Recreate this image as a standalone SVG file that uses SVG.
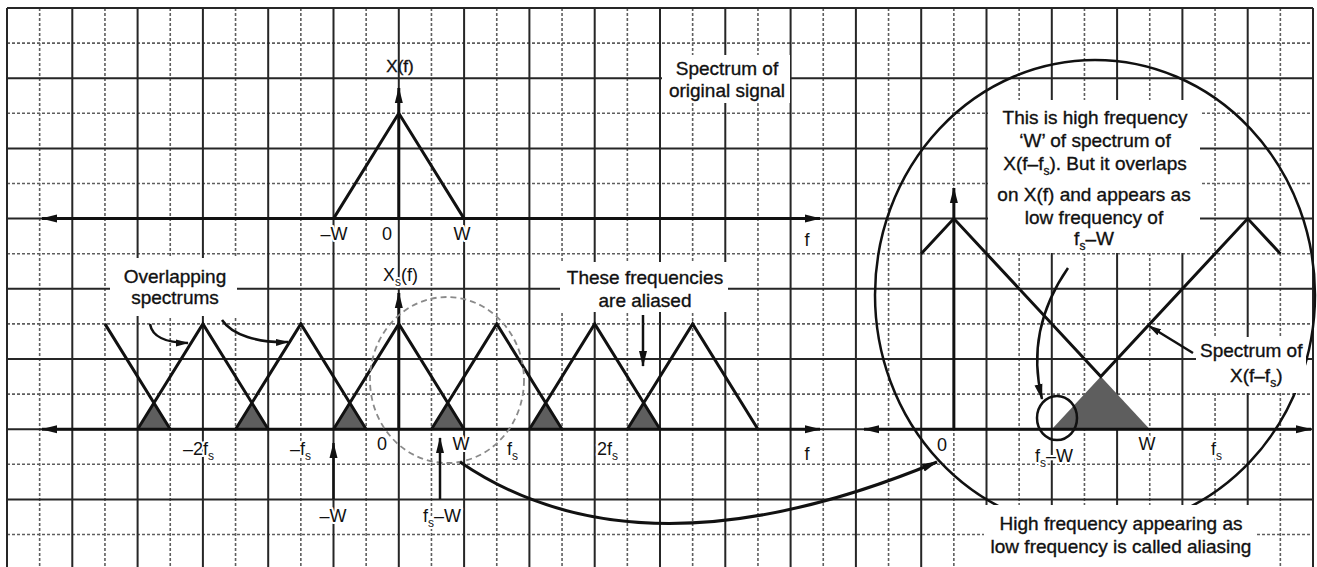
<svg xmlns="http://www.w3.org/2000/svg" width="1317" height="567" viewBox="0 0 1317 567">
<defs>
<style>
.maj{stroke:#262626;stroke-width:2;fill:none}
.min{stroke:#5e5e5e;stroke-width:1.6;stroke-dasharray:3 2;fill:none}
.box{fill:#fff}
.thk{stroke:#111;stroke-width:3;fill:none;stroke-linejoin:miter}
.ax{stroke:#111;stroke-width:3;fill:none}
.arr{stroke:#111;stroke-width:2.5;fill:none}
.sh{fill:#5e5e5e}
.t{font-family:'Liberation Sans',Arial,sans-serif;font-size:19px;fill:#111;stroke:#111;stroke-width:0.35}
.l{font-size:18px;stroke:#fff;stroke-width:4;paint-order:stroke;stroke-linejoin:round}
.s{font-size:12px}
</style>
<marker id="ah" viewBox="0 0 16 10" refX="15" refY="5" markerWidth="16" markerHeight="10" orient="auto-start-reverse" markerUnits="userSpaceOnUse"><path d="M0,1 L16,5 L0,9 Z" fill="#111"/></marker>
<marker id="as" viewBox="0 0 13 8" refX="12" refY="4" markerWidth="13" markerHeight="8" orient="auto" markerUnits="userSpaceOnUse"><path d="M0,0.5 L13,4 L0,7.5 Z" fill="#111"/></marker>
</defs>
<rect width="1317" height="567" fill="#fff"/>
<g id="grid">
<path class="min" d="M39.65,8V567M104.95,8V567M170.25,8V567M235.55,8V567M300.85,8V567M366.15,8V567M431.45,8V567M496.75,8V567M562.05,8V567M627.35,8V567M692.65,8V567M757.95,8V567M823.25,8V567M888.55,8V567M953.85,8V567M1019.15,8V567M1084.45,8V567M1149.75,8V567M1215.05,8V567M1280.35,8V567"/>
<path class="min" d="M7,43.1H1313M7,113.3H1313M7,183.5H1313M7,253.7H1313M7,323.9H1313M7,394.1H1313M7,464.3H1313M7,534.5H1313"/>
<path class="maj" d="M7,8V567M72.3,8V567M137.6,8V567M202.9,8V567M268.2,8V567M333.5,8V567M398.8,8V567M464.1,8V567M529.4,8V567M594.7,8V567M660,8V567M725.3,8V567M790.6,8V567M855.9,8V567M921.2,8V567M986.5,8V567M1051.8,8V567M1117.1,8V567M1182.4,8V567M1247.7,8V567M1313,8V567"/>
<path class="maj" d="M7,8H1313M7,78.2H1313M7,148.4H1313M7,218.6H1313M7,288.8H1313M7,359H1313M7,429.2H1313M7,499.4H1313"/>
</g>
<g id="zoom-circle">
<ellipse cx="1095" cy="295" rx="220" ry="235" fill="none" stroke="#111" stroke-width="2.5"/>
</g>
<g id="text-boxes">
<rect class="box" x="662" y="55" width="128" height="48"/>
<rect class="box" x="110" y="258" width="127" height="58"/>
<rect class="box" x="560" y="262" width="168" height="50"/>
<rect class="box" x="988" y="100" width="212" height="153"/>
<rect class="box" x="1196" y="337" width="110" height="56"/>
<rect class="box" x="984" y="505" width="272" height="62"/>
</g>
<g id="original-spectrum">
<path class="ax" d="M42,218.6H820" marker-start="url(#ah)" marker-end="url(#ah)"/>
<path class="ax" d="M398.8,218.6V88" marker-end="url(#ah)"/>
<path class="thk" d="M333.5,218.6L398.8,113.3L464.1,218.6"/>
<text class="t" x="400" y="72" text-anchor="middle" style="font-size:17px">X(f)</text>
<text class="t l" x="334" y="240" text-anchor="middle">–W</text>
<text class="t l" x="387" y="240" text-anchor="middle">0</text>
<text class="t l" x="462" y="240" text-anchor="middle">W</text>
<text class="t l" x="807" y="246" text-anchor="middle">f</text>
<text class="t" x="727" y="75" text-anchor="middle">Spectrum of</text>
<text class="t" x="727" y="97" text-anchor="middle">original signal</text>
</g>
<g id="sampled-spectrum">
<g class="sh">
<path d="M137.6,429.2L153.9,402.9L170.25,429.2Z"/>
<path d="M235.55,429.2L251.9,402.9L268.2,429.2Z"/>
<path d="M333.5,429.2L349.8,402.9L366.15,429.2Z"/>
<path d="M431.45,429.2L447.8,402.9L464.1,429.2Z"/>
<path d="M529.4,429.2L545.7,402.9L562.05,429.2Z"/>
<path d="M627.35,429.2L643.7,402.9L660,429.2Z"/>
</g>
<path class="ax" d="M42,429.2H820" marker-start="url(#ah)" marker-end="url(#ah)"/>
<path class="ax" d="M398.8,429.2V293" marker-end="url(#ah)"/>
<path class="thk" d="M104.95,323.9L170.25,429.2M137.6,429.2L202.9,323.9L268.2,429.2M235.55,429.2L300.85,323.9L366.15,429.2M333.5,429.2L398.8,323.9L464.1,429.2M431.45,429.2L496.75,323.9L562.05,429.2M529.4,429.2L594.7,323.9L660,429.2M627.35,429.2L692.65,323.9L757.95,429.2"/>
<ellipse cx="447" cy="380" rx="77" ry="83" fill="none" stroke="#8a8a8a" stroke-width="1.8" stroke-dasharray="6 4"/>
<text class="t l" x="383" y="281">X<tspan class="s" dy="5">s</tspan><tspan dy="-5">(f)</tspan></text>
<text class="t l" x="183" y="455">–2f<tspan class="s" dy="5">s</tspan></text>
<text class="t l" x="290" y="455">–f<tspan class="s" dy="5">s</tspan></text>
<text class="t l" x="382" y="450" text-anchor="middle">0</text>
<text class="t l" x="461" y="450" text-anchor="middle">W</text>
<text class="t l" x="507" y="455">f<tspan class="s" dy="5">s</tspan></text>
<text class="t l" x="597" y="455">2f<tspan class="s" dy="5">s</tspan></text>
<text class="t l" x="807" y="460" text-anchor="middle">f</text>
<text class="t l" x="333" y="522" text-anchor="middle">–W</text>
<text class="t l" x="423" y="522">f<tspan class="s" dy="5">s</tspan><tspan dy="-5">–W</tspan></text>
<text class="t" x="175" y="283" text-anchor="middle">Overlapping</text>
<text class="t" x="175" y="304" text-anchor="middle">spectrums</text>
<text class="t" x="645" y="284" text-anchor="middle">These frequencies</text>
<text class="t" x="645" y="307" text-anchor="middle">are aliased</text>
</g>
<g id="aliasing-zoom">
<path class="sh" d="M1051.8,429.2L1100.8,376.5L1149.75,429.2Z"/>
<path class="ax" d="M864,429.2H1311" marker-start="url(#ah)" marker-end="url(#ah)"/>
<path class="ax" d="M953.85,429.2V188" marker-end="url(#ah)"/>
<path class="thk" d="M921.2,253.7L953.85,218.6L1100.8,376.5L1247.7,218.6L1280.35,253.7"/>
<ellipse cx="1057" cy="418" rx="20" ry="22" fill="none" stroke="#111" stroke-width="2.5"/>
<text class="t l" x="942" y="451" text-anchor="middle">0</text>
<text class="t l" x="1035" y="462">f<tspan class="s" dy="5">s</tspan><tspan dy="-5">–W</tspan></text>
<text class="t l" x="1147" y="450" text-anchor="middle">W</text>
<text class="t l" x="1211" y="455">f<tspan class="s" dy="5">s</tspan></text>
<text class="t" x="1095" y="124" text-anchor="middle">This is high frequency</text>
<text class="t" x="1095" y="147" text-anchor="middle">‘W’ of spectrum of</text>
<text class="t" x="1095" y="170" text-anchor="middle">X(f–f<tspan class="s" dy="5">s</tspan><tspan dy="-5">). But it overlaps</tspan></text>
<text class="t" x="1094" y="201" text-anchor="middle">on X(f) and appears as</text>
<text class="t" x="1094" y="224" text-anchor="middle">low frequency of</text>
<text class="t" x="1094" y="245" text-anchor="middle">f<tspan class="s" dy="5">s</tspan><tspan dy="-5">–W</tspan></text>
<text class="t" x="1200" y="357">Spectrum of</text>
<text class="t" x="1230" y="382">X(f–f<tspan class="s" dy="5">s</tspan><tspan dy="-5">)</tspan></text>
<text class="t" x="1121" y="530" text-anchor="middle">High frequency appearing as</text>
<text class="t" x="1121" y="553" text-anchor="middle">low frequency is called aliasing</text>
</g>
<g id="connectors">
<path class="arr" d="M150,324C152,336 165,343 188,343" marker-end="url(#as)"/>
<path class="arr" d="M222,320C232,335 258,343 288,342" marker-end="url(#as)"/>
<path class="arr" d="M643,315V366" marker-end="url(#ah)"/>
<path class="arr" d="M333.5,499V443" marker-end="url(#ah)"/>
<path class="arr" d="M440,499V438" marker-end="url(#ah)"/>
<path class="ax" d="M460,462Q640,585 937,462" marker-end="url(#ah)"/>
<path class="arr" d="M1068,268Q1025,330 1042,399" marker-end="url(#ah)"/>
<path class="arr" d="M1193,353L1149,326" marker-end="url(#as)"/>
</g>
</svg>
